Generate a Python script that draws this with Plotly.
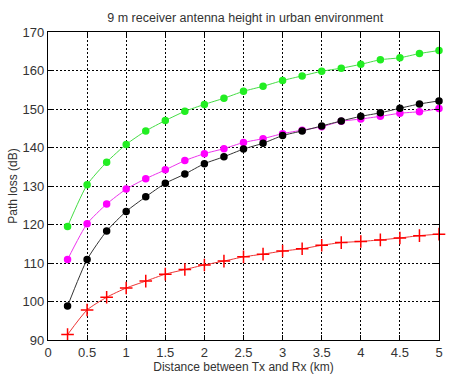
import plotly.graph_objects as go

distance_km = [0.25, 0.5, 0.75, 1.0, 1.25, 1.5, 1.75, 2.0, 2.25, 2.5,
               2.75, 3.0, 3.25, 3.5, 3.75, 4.0, 4.25, 4.5, 4.75, 5.0]

green_loss = [119.5, 130.3, 136.2, 140.8, 144.3, 147.0, 149.4, 151.2, 152.8, 154.6,
              155.9, 157.4, 158.6, 159.8, 160.6, 161.6, 162.8, 163.3, 164.4, 165.2]
magenta_loss = [110.9, 120.2, 125.3, 129.2, 131.9, 134.2, 136.6, 138.4, 139.7, 141.3,
                142.3, 143.6, 144.5, 145.4, 146.8, 147.4, 148.1, 148.9, 149.3, 150.1]
black_loss = [98.8, 110.9, 118.3, 123.4, 127.2, 130.7, 133.1, 135.8, 137.6, 139.6,
              141.1, 143.1, 144.3, 145.6, 146.9, 148.1, 149.0, 150.2, 151.3, 152.1]
red_loss = [91.4, 97.8, 101.1, 103.5, 105.3, 107.1, 108.3, 109.5, 110.5, 111.6,
            112.3, 113.1, 113.7, 114.6, 115.3, 115.6, 116.0, 116.5, 117.1, 117.5]

x_ticks = [0, 0.5, 1, 1.5, 2, 2.5, 3, 3.5, 4, 4.5, 5]
x_tick_labels = ["0", "0.5", "1", "1.5", "2", "2.5", "3", "3.5", "4", "4.5", "5"]
y_ticks = [90, 100, 110, 120, 130, 140, 150, 160, 170]

FONT = "Liberation Sans"
TXT = "#333333"

fig = go.Figure()

series = [
    (green_loss, "#22ee22", "#44dd44", "circle", 6),
    (magenta_loss, "#ff00ff", "#ee33ee", "circle", 6),
    (black_loss, "#000000", "#333333", "circle", 6),
    (red_loss, "#ff0000", "#ee3333", "cross-thin", 9),
]
for vals, mcol, lcol, sym, size in series:
    fig.add_trace(go.Scatter(
        x=distance_km, y=vals, mode="lines+markers",
        line=dict(color=lcol, width=1, shape="spline", smoothing=0.6),
        marker=dict(color=mcol, symbol=sym, size=size,
                    line=dict(color=mcol, width=1.5)),
        cliponaxis=False, showlegend=False,
    ))

axis_common = dict(
    showline=True, linecolor="black", linewidth=1.2, mirror="ticks",
    ticks="inside", ticklen=5, tickcolor="black", tickwidth=1,
    showgrid=True, gridcolor="black", gridwidth=1, griddash="2px,2px",
    zeroline=False, automargin=False,
    tickfont=dict(family=FONT, size=13, color=TXT),
)

fig.update_xaxes(range=[0, 5], tickvals=x_ticks, ticktext=x_tick_labels,
                 title=dict(text="Distance between Tx and Rx (km)",
                            font=dict(family=FONT, size=12, color=TXT),
                            standoff=0),
                 **axis_common)
fig.update_yaxes(range=[90, 170], tickvals=y_ticks,
                 title=dict(text="Path loss (dB)",
                            font=dict(family=FONT, size=12, color=TXT),
                            standoff=2),
                 **axis_common)

fig.update_layout(
    width=450, height=374,
    margin=dict(l=48, r=11, t=32, b=34),
    paper_bgcolor="white", plot_bgcolor="white",
    title=dict(text="9 m receiver antenna height in urban environment",
               x=0.545, xanchor="center", y=0.952, yanchor="middle",
               font=dict(family=FONT, size=12.5, color=TXT)),
)

fig.write_html(
    "out.html",
    config={"displayModeBar": False},
    post_script="document.body.style.margin='0';document.body.style.overflow='hidden';",
)
